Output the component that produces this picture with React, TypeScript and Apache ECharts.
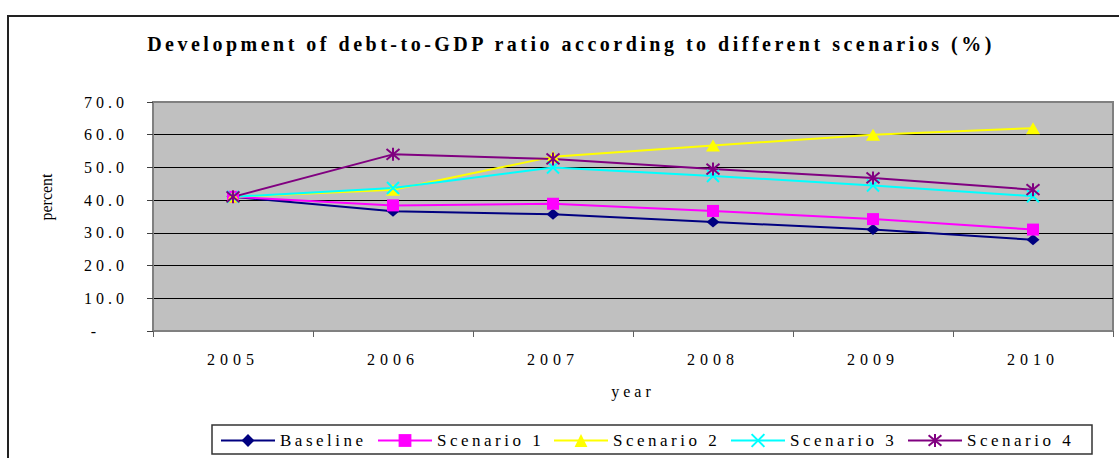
import React, { useEffect, useRef } from 'react';
import * as echarts from 'echarts';

const TITLE = 'Development of debt-to-GDP ratio according to different scenarios (%)';
const years = ['2005', '2006', '2007', '2008', '2009', '2010'];
const baseline = [41.0, 36.6, 35.7, 33.3, 31.0, 27.9];
const scenario1 = [41.0, 38.4, 38.9, 36.7, 34.2, 31.0];
const scenario2 = [41.0, 43.2, 53.3, 56.7, 60.0, 62.0];
const scenario3 = [41.0, 43.7, 50.0, 47.4, 44.5, 41.2];
const scenario4 = [41.0, 54.0, 52.6, 49.5, 46.8, 43.2];
const seriesNames = ['Baseline', 'Scenario 1', 'Scenario 2', 'Scenario 3', 'Scenario 4'];
const seriesData = [baseline, scenario1, scenario2, scenario3, scenario4];
const seriesColors = ['#000080', '#FF00FF', '#FFFF00', '#00FFFF', '#800080'];
const Y_MIN = 0;
const Y_MAX = 70;
const Y_STEP = 10;

const FONT = 'Liberation Serif';

const symbols = [
  'diamond',
  'rect',
  'triangle',
  'path://M0,0L10,10M10,0L0,10',
  'path://M0,0L10,10M10,0L0,10M5,-1L5,11',
];
const symbolSizes: any[] = [[13, 11], 12, [14, 12], 12, 13];
const legendLeft = [220, 377, 553, 730, 907];

function spacingFor(s: string) {
  if (s === TITLE) return 3.5;
  if (s === 'percent') return 0;
  if (/^\d{4}$/.test(s)) return 5;
  if (seriesNames.indexOf(s) >= 0) return 3.5;
  return 4;
}

function applySpacing(el: HTMLElement) {
  el.querySelectorAll('text').forEach((t) => {
    const s = (t.textContent || '').trim();
    (t as SVGTextElement).style.letterSpacing = spacingFor(s) + 'px';
  });
}

export default function App() {
  const ref = useRef<HTMLDivElement>(null);
  useEffect(() => {
    const el = ref.current!;
    const chart = echarts.init(el, undefined, { renderer: 'svg' });
    const series = seriesNames.map((name, i) => {
      const stroked = i >= 3;
      return {
        name,
        type: 'line',
        data: seriesData[i],
        color: seriesColors[i],
        symbol: symbols[i],
        symbolSize: symbolSizes[i],
        showAllSymbol: true,
        lineStyle: { color: seriesColors[i], width: 2 },
        itemStyle: stroked
          ? { color: seriesColors[i], borderColor: seriesColors[i], borderWidth: 2 }
          : { color: seriesColors[i], borderWidth: 0 },
        emphasis: { disabled: true },
      };
    });
    const legends = seriesNames.map((name, i) => ({
      show: true,
      data: [name],
      left: legendLeft[i],
      top: 432,
      padding: 0,
      itemGap: 0,
      itemWidth: 54,
      itemHeight: 16,
      selectedMode: false,
      lineStyle: { width: 2 },
      textStyle: { fontFamily: FONT, fontSize: 17, color: '#000' },
    }));
    chart.setOption({
      animation: false,
      backgroundColor: '#fff',
      grid: {
        left: 153,
        right: 6,
        top: 102,
        bottom: 127,
        show: true,
        backgroundColor: '#C0C0C0',
        borderColor: '#808080',
        borderWidth: 2,
        outerBoundsMode: 'none',
        containLabel: false,
      },
      legend: legends,
      xAxis: {
        type: 'category',
        data: years,
        boundaryGap: true,
        axisLine: { show: true, lineStyle: { color: '#808080', width: 2 } },
        axisTick: { show: true, length: 6, lineStyle: { color: '#606060' } },
        axisLabel: { margin: 20, fontFamily: FONT, fontSize: 16, color: '#000' },
        name: 'year',
        nameLocation: 'middle',
        nameGap: 52,
        nameTextStyle: { fontFamily: FONT, fontSize: 16, color: '#000' },
        splitLine: { show: false },
      },
      yAxis: {
        type: 'value',
        min: Y_MIN,
        max: Y_MAX,
        interval: Y_STEP,
        axisLine: { show: true, lineStyle: { color: '#808080', width: 2 } },
        axisTick: { show: true, length: 6, lineStyle: { color: '#404040' } },
        splitLine: { show: true, showMinLine: false, showMaxLine: false, lineStyle: { color: '#000', width: 1 } },
        axisLabel: {
          margin: 25,
          fontFamily: FONT,
          fontSize: 16,
          color: '#000',
          formatter: (v: number) => (v === 0 ? '{d|-}' : v.toFixed(1)),
          rich: { d: { fontFamily: FONT, fontSize: 16, color: '#000', padding: [0, 28, 0, 0] } },
        },
      },
      graphic: [
        {
          type: 'rect',
          silent: true,
          shape: { x: 8, y: 16, width: 1200, height: 600 },
          style: { fill: 'none', stroke: '#222', lineWidth: 2 },
        },
        {
          type: 'text',
          silent: true,
          x: 571,
          y: 44,
          style: {
            text: TITLE,
            fontFamily: FONT,
            fontSize: 20,
            fontWeight: 'bold',
            fill: '#000',
            textAlign: 'center',
            textVerticalAlign: 'middle',
            align: 'center',
            verticalAlign: 'middle',
          },
        },
        {
          type: 'text',
          silent: true,
          x: 46,
          y: 197,
          rotation: Math.PI / 2,
          style: {
            text: 'percent',
            fontFamily: FONT,
            fontSize: 16,
            fill: '#000',
            textAlign: 'center',
            textVerticalAlign: 'middle',
            align: 'center',
            verticalAlign: 'middle',
          },
        },
        {
          type: 'rect',
          silent: true,
          shape: { x: 212, y: 425, width: 880, height: 29 },
          style: { fill: 'none', stroke: '#333', lineWidth: 1.5 },
        },
      ],
      series,
    });
    applySpacing(el);
    chart.on('finished', () => applySpacing(el));
    const raf = requestAnimationFrame(() => applySpacing(el));
    return () => {
      cancelAnimationFrame(raf);
      chart.dispose();
    };
  }, []);
  return (
    <div
      ref={ref}
      style={{ position: 'absolute', left: 0, top: 0, width: 1119, height: 458 }}
    />
  );
}
